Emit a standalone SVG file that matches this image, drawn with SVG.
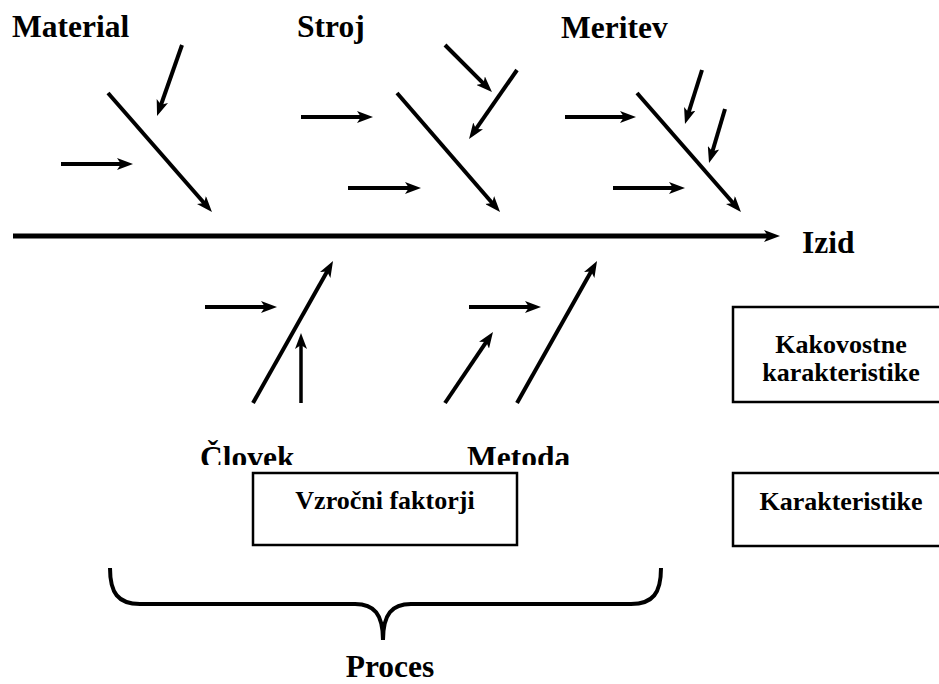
<svg xmlns="http://www.w3.org/2000/svg" width="939" height="684" viewBox="0 0 939 684">
  <style>
    text { font-family: 'Liberation Serif', 'Times New Roman', 'DejaVu Serif', serif; font-weight: bold; fill: #000; }
    .label { font-size: 31.5px; }
    .boxtext { font-size: 26px; text-anchor: middle; }
    .box { fill: #fff; stroke: #000; stroke-width: 2.5; }
    .arrow { stroke: #000; stroke-width: 4; fill: none; marker-end: url(#head); }
    .thin { stroke-width: 3.5; }
    .spine { stroke: #000; stroke-width: 5; fill: none; marker-end: url(#head); }
    .brace { stroke: #000; stroke-width: 4; fill: none; stroke-linecap: butt; }
  </style>
  <defs>
    <marker id="head" markerUnits="userSpaceOnUse" viewBox="0 0 16 12" markerWidth="16" markerHeight="12" refX="8" refY="6" orient="auto">
      <path d="M0,0 L16,6 L0,12 L4,6 Z" fill="#000"/>
    </marker>
    <clipPath id="lowerLabels">
      <rect x="0" y="420" width="939" height="45"/>
    </clipPath>
  </defs>
  <rect width="939" height="684" fill="#fff"/>

  <!-- cause and effect arrows -->
  <g id="connectors">
    <line class="spine" x1="13" y1="236" x2="772" y2="236"/>
    <!-- Material -->
    <line class="arrow" x1="108" y1="93" x2="206.7" y2="206"/>
    <line class="arrow" x1="182" y1="45" x2="159.7" y2="108.5"/>
    <line class="arrow" x1="61" y1="164" x2="125" y2="164"/>
    <!-- Stroj -->
    <line class="arrow" x1="301" y1="117" x2="365" y2="117"/>
    <line class="arrow" x1="348" y1="188" x2="413" y2="188"/>
    <line class="arrow" x1="397" y1="93" x2="494.8" y2="206"/>
    <line class="arrow" x1="445" y1="45" x2="486.3" y2="86.3"/>
    <line class="arrow" x1="517" y1="70" x2="473.6" y2="132.4"/>
    <!-- Meritev -->
    <line class="arrow" x1="565" y1="117" x2="628" y2="117"/>
    <line class="arrow" x1="613" y1="188" x2="677" y2="188"/>
    <line class="arrow" x1="637" y1="93" x2="735.7" y2="206"/>
    <line class="arrow" x1="702" y1="70" x2="687.4" y2="116.4"/>
    <line class="arrow" x1="725" y1="109" x2="711.3" y2="155.3"/>
    <!-- Človek -->
    <line class="arrow" x1="253" y1="403" x2="329.1" y2="268"/>
    <line class="arrow" x1="205" y1="307" x2="269" y2="307"/>
    <line class="arrow thin" x1="301" y1="403" x2="301" y2="341"/>
    <!-- Metoda -->
    <line class="arrow" x1="469" y1="307" x2="533" y2="307"/>
    <line class="arrow" x1="445" y1="403" x2="488.5" y2="338.6"/>
    <line class="arrow" x1="517" y1="403" x2="593.1" y2="268"/>
  </g>

  <g id="material"><text class="label" x="12" y="37">Material</text></g>
  <g id="stroj"><text class="label" x="297" y="37">Stroj</text></g>
  <g id="meritev"><text class="label" x="561" y="38">Meritev</text></g>
  <g id="izid"><text class="label" x="802" y="253">Izid</text></g>
  <g id="clovek"><text class="label" x="200" y="468" clip-path="url(#lowerLabels)">Človek</text></g>
  <g id="metoda"><text class="label" x="467" y="468" clip-path="url(#lowerLabels)">Metoda</text></g>

  <g id="vzrocni-faktorji">
    <rect class="box" x="253" y="473" width="264" height="72"/>
    <text class="boxtext" x="385" y="509">Vzročni faktorji</text>
  </g>

  <g id="kakovostne-karakteristike">
    <rect class="box" x="733" y="307" width="216" height="95"/>
    <text class="boxtext" x="841" y="353">Kakovostne</text>
    <text class="boxtext" x="841" y="381">karakteristike</text>
  </g>

  <g id="karakteristike">
    <rect class="box" x="733" y="473" width="216" height="73"/>
    <text class="boxtext" x="841" y="510">Karakteristike</text>
  </g>

  <g id="proces">
    <path class="brace" d="M110,568 C110,593 118,604 140,604 L355,604 C374,604 383,614 383,640 M383,640 C383,614 392,604 411,604 L631,604 C653,604 661,593 661,568"/>
    <text class="label" x="390" y="677" text-anchor="middle">Proces</text>
  </g>
</svg>
